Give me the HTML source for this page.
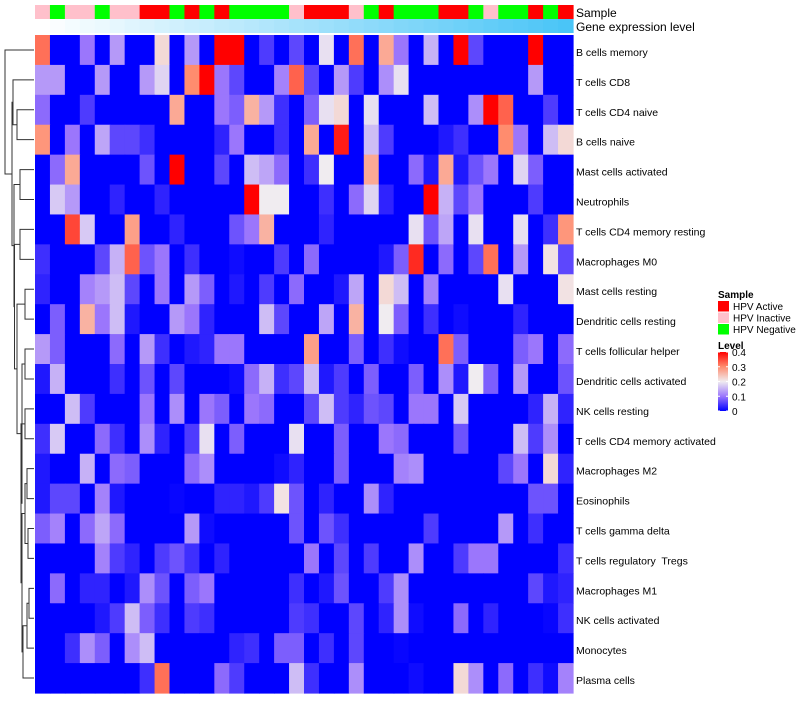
<!DOCTYPE html>
<html><head><meta charset="utf-8">
<style>
html,body{margin:0;padding:0;background:#fff;}
svg text{font-family:"Liberation Sans",sans-serif;white-space:pre;}
</style></head>
<body>
<svg id="chart" width="800" height="700" viewBox="0 0 800 700" xmlns="http://www.w3.org/2000/svg">
<g id="dendro"></g>
<g id="anno"></g>
<g id="cells"></g>
<g id="labels"></g>
<g id="legend"></g>
</svg>
<script>
const rowNames = ["B cells memory","T cells CD8","T cells CD4 naive","B cells naive","Mast cells activated","Neutrophils","T cells CD4 memory resting","Macrophages M0","Mast cells resting","Dendritic cells resting","T cells follicular helper","Dendritic cells activated","NK cells resting","T cells CD4 memory activated","Macrophages M2","Eosinophils","T cells gamma delta","T cells regulatory  Tregs","Macrophages M1","NK cells activated","Monocytes","Plasma cells"];
const sampleGroups = ["I","N","I","I","N","I","I","A","A","N","A","N","A","N","N","N","N","I","A","A","A","I","N","A","N","N","N","A","A","N","I","N","N","A","N","A"];
const geneLevel = [0,0.03,0.06,0.09,0.11,0.14,0.17,0.2,0.23,0.26,0.29,0.31,0.34,0.37,0.4,0.43,0.46,0.49,0.51,0.54,0.57,0.6,0.63,0.66,0.69,0.71,0.74,0.77,0.8,0.83,0.86,0.89,0.91,0.94,0.97,1];
const values = [
[.32,0,0,.1,0,.13,0,0,.22,0,.13,0,.4,.4,0,.05,0,.06,0,.19,0,.32,0,.27,.1,0,.15,0,.4,.06,0,0,0,.4,0,0],
[.13,.13,0,0,.13,0,0,.13,.18,0,.3,.4,.1,.06,0,0,.11,.33,.06,0,.13,.05,0,.12,.19,0,0,0,0,0,0,0,0,.13,0,0],
[.09,0,0,.05,0,0,0,0,0,.27,0,0,.1,.08,.26,.13,.04,0,.08,.19,.22,0,.19,0,0,0,.16,0,0,.12,.4,.33,0,0,.05,0],
[.29,0,.1,0,.14,.06,.06,.04,0,0,0,0,.03,.1,0,0,.04,0,.27,0,.38,0,.16,.05,0,0,0,.02,.04,0,0,.3,.1,0,.16,.22],
[0,.09,.27,0,0,0,0,.07,0,.4,0,0,.06,0,.16,.14,.09,0,.04,.2,0,0,.27,0,0,.09,.02,.27,.02,.07,.1,0,.18,.08,0,0],
[0,.17,.13,0,0,.03,0,0,.03,0,0,0,0,0,.4,.2,.2,0,0,.04,0,.09,.18,.03,0,0,.4,.15,.06,.1,0,0,0,.05,0,0],
[0,0,.35,.17,0,0,.28,0,0,.03,0,0,0,.07,.1,.26,0,0,0,.03,0,0,0,0,0,.19,.07,.14,0,.19,0,0,.19,0,.04,.29],
[.04,0,0,0,.06,.15,.33,.07,.1,0,.04,0,0,.01,0,0,.05,0,.09,0,0,0,0,.02,.08,.37,0,.09,0,.06,.32,0,.13,0,.21,.06],
[.03,0,0,.11,.13,.16,.06,0,.1,0,.13,.08,0,.02,0,.05,0,.09,0,0,.02,.14,0,.22,.16,0,.11,0,0,0,0,.19,0,0,0,.21],
[0,.08,0,.26,.1,.16,.02,0,0,.13,.1,.03,0,0,0,.16,.06,0,0,.14,0,.26,0,.2,.08,0,.04,0,.01,0,0,0,.03,0,0,0],
[.13,.08,0,0,0,.09,0,.13,.04,0,.02,.03,.1,.1,0,0,0,0,.28,0,0,.08,0,.04,.01,0,0,.32,.08,0,0,0,.08,.1,0,.09],
[.02,.15,0,0,0,.04,0,.07,0,.06,0,0,0,.01,.09,.15,.04,.06,.16,.02,.05,0,.08,0,0,.08,0,.12,.02,.2,.08,0,.13,0,0,.07],
[0,0,.16,.05,0,0,0,.1,0,.12,0,.1,.08,0,.1,.09,0,0,.06,.16,.05,.03,.07,.06,0,.1,.1,0,.17,0,0,0,0,.03,.15,.03],
[.04,.17,0,0,.09,.04,0,.12,.03,0,.05,.19,0,.08,0,0,0,.19,0,0,.08,0,0,.1,.09,0,0,0,.07,0,0,0,.16,.05,.12,0],
[.02,0,0,.15,0,.09,.08,0,0,0,.09,.12,0,0,0,0,.01,.03,0,0,.08,0,0,0,.11,.12,0,0,0,0,0,.06,.1,0,.22,.03],
[.02,.06,.06,0,.11,.02,0,0,0,.005,0,0,.03,.03,.02,.05,.21,.07,0,.03,0,0,.12,.03,0,0,0,0,0,0,0,0,0,.07,.07,0],
[.08,.11,0,.09,.14,.09,0,0,0,0,.13,.01,0,0,0,0,0,.07,0,.07,.04,0,0,0,0,0,.05,0,0,0,0,.13,0,.04,0,0],
[0,0,0,0,.11,.05,.03,0,.05,.07,.04,0,.03,0,0,0,0,0,.1,0,.06,0,.05,0,0,.12,0,0,.05,.1,.1,0,0,0,0,.04],
[0,.09,0,.03,.03,0,.02,.12,.07,0,.08,.1,0,0,0,0,0,.04,0,.02,.07,0,0,.05,.12,0,0,0,0,0,0,0,0,.06,.02,.03],
[0,0,0,0,.02,.05,.16,.08,.04,0,.05,.04,0,0,0,0,0,.05,.04,0,0,.06,0,.03,.12,.01,0,0,.09,0,.03,0,0,0,.005,.04],
[0,0,.04,.12,.08,0,.12,.16,0,0,0,0,0,.03,.04,0,.08,.08,0,.04,0,.06,0,0,.005,0,0,0,0,0,0,0,0,0,0,0],
[0,0,0,0,0,0,0,.04,.32,0,0,0,.09,.05,0,0,0,.16,.04,0,0,.12,0,0,0,.01,0,0,.22,.12,0,.09,0,.04,.01,.11]
];
const levelTicks = [0,0.1,0.2,0.3,0.4];
const legendGroups = ["A","I","N"];
const legendLabels = ["HPV Active","HPV Inactive","HPV Negative"];
const tree = [0,[[1,[2,3,17],13],[[4,5,20],[[6,7,20],[[8,9,25],[[10,11,25],[[12,13,25],[[[14,15,27],[16,17,28],25],[[[18,19,29],20,27],21,23],22],21],22],17],14.5],14],12],5];

const NS="http://www.w3.org/2000/svg";
const X0=35,X1=573,Y0=35,Y1=693;
const nC=values[0].length,nR=values.length;
const cw=(X1-X0)/nC,rh=(Y1-Y0)/nR;
const xPos=c=>X0+c*cw, yPos=r=>Y0+r*rh;
const groupColor={A:"#ff0000",I:"#ffc0cb",N:"#00ff00"};
const stops=[[0,[0,0,255]],[0.1,[155,118,252]],[0.2,[240,236,240]],[0.3,[255,140,110]],[0.4,[255,0,0]]];
function colorOf(v){
  v=Math.max(0,Math.min(0.4,v));
  for(let i=0;i<stops.length-1;i++){
    if(v<=stops[i+1][0]){const t=(v-stops[i][0])/(stops[i+1][0]-stops[i][0]);
      const a=stops[i][1],b=stops[i+1][1];
      return "rgb("+a.map((x,k)=>Math.round(x+(b[k]-x)*t)).join(",")+")";}
  }
  return "rgb(255,0,0)";
}
function geneColor(t){const a=[255,255,255],b=[74,197,247];return "rgb("+a.map((x,k)=>Math.round(x+(b[k]-x)*t)).join(",")+")";}
function mk(tag,attrs,parent){const e=document.createElementNS(NS,tag);for(const k in attrs)e.setAttribute(k,attrs[k]);parent.appendChild(e);return e;}
const gCells=document.getElementById("cells"),gAnno=document.getElementById("anno"),gLab=document.getElementById("labels"),gLeg=document.getElementById("legend"),gD=document.getElementById("dendro");

values.forEach((row,r)=>row.forEach((v,c)=>{
  const e=mk("rect",{x:xPos(c),y:yPos(r),width:cw+0.6,height:rh+0.6,fill:colorOf(v)},gCells);
  
  
}));
sampleGroups.forEach((g,c)=>{
  const e=mk("rect",{x:xPos(c),y:5,width:cw+0.6,height:14,fill:groupColor[g]},gAnno);
  
  
});
geneLevel.forEach((t,c)=>{
  const e=mk("rect",{x:xPos(c),y:19,width:cw+0.6,height:14,fill:geneColor(t)},gAnno);
  
  
});
let t1=mk("text",{x:576,y:17,"font-size":12,fill:"#000"},gAnno);t1.textContent="Sample";


let t2=mk("text",{x:576,y:31,"font-size":12,fill:"#000"},gAnno);t2.textContent="Gene expression level";


rowNames.forEach((n,r)=>{
  const e=mk("text",{x:576,y:yPos(r)+rh/2+6,"font-size":10.5,fill:"#000"},gLab);e.textContent=n;
  
  
});
const hx=h=>h;
function draw(node){
  if(typeof node==="number") return {y:yPos(node)+rh/2,x:X0-1};
  const a=draw(node[0]),b=draw(node[1]),x=hx(node[2]);
  const p=mk("path",{d:`M${a.x},${a.y}H${x}V${b.y}H${b.x}`,fill:"none",stroke:"#333","stroke-width":1},gD);
  
  
  return {y:(a.y+b.y)/2,x:x};
}
draw(tree);
let lt=mk("text",{x:718,y:298,"font-size":10,"font-weight":"bold"},gLeg);lt.textContent="Sample";


legendGroups.forEach((g,i)=>{
  const r=mk("rect",{x:718,y:301+i*11.5,width:11,height:10.5,fill:groupColor[g]},gLeg);
  
  
  const t=mk("text",{x:733,y:310+i*11.5,"font-size":10},gLeg);t.textContent=legendLabels[i];
  
  
});
let lv=mk("text",{x:718,y:349,"font-size":10,"font-weight":"bold"},gLeg);lv.textContent="Level";


const defs=mk("defs",{},gLeg);const lg=mk("linearGradient",{id:"lvl",x1:0,y1:1,x2:0,y2:0},defs);
for(let i=0;i<=20;i++){mk("stop",{offset:i/20,"stop-color":colorOf(0.4*i/20)},lg);}
const cbY0=352,cbY1=411;
const cb=mk("rect",{x:718,y:cbY0,width:10,height:cbY1-cbY0,fill:"url(#lvl)"},gLeg);


levelTicks.forEach(v=>{
  const y=cbY1-(v/0.4)*(cbY1-cbY0);
  mk("line",{x1:718,x2:720,y1:y,y2:y,stroke:"#fff"},gLeg);
  mk("line",{x1:726,x2:728,y1:y,y2:y,stroke:"#fff"},gLeg);
  const t=mk("text",{x:732,y:y+4,"font-size":10},gLeg);t.textContent=String(v);
  
  
});
</script>
</body></html>
